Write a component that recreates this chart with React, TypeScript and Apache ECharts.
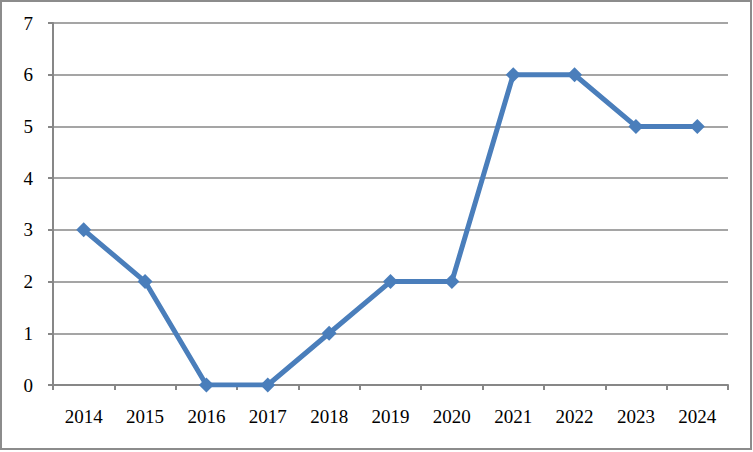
import React, { useEffect, useRef } from "react";
import * as echarts from "echarts";

const categories = ["2014", "2015", "2016", "2017", "2018", "2019", "2020", "2021", "2022", "2023", "2024"];
const values = [3, 2, 0, 0, 1, 2, 2, 6, 6, 5, 5];
const yTicks = { min: 0, max: 7, interval: 1 };

export default function App() {
  const ref = useRef<HTMLDivElement>(null);
  useEffect(() => {
    if (!ref.current) return;
    const chart = echarts.init(ref.current, null, { renderer: "svg" });
    const font = "'Liberation Serif', 'DejaVu Serif', serif";
    chart.setOption({
      animation: false,
      backgroundColor: "#ffffff",
      graphic: [
        {
          type: "rect",
          shape: { x: 1, y: 1, width: 750, height: 448 },
          style: { fill: "none", stroke: "#8c8c8c", lineWidth: 2 },
          silent: true,
        },
      ],
      grid: { left: 53, right: 25, top: 23, bottom: 67 },
      xAxis: {
        type: "category",
        data: categories,
        boundaryGap: true,
        axisLine: { lineStyle: { color: "#878787", width: 2 } },
        axisTick: { show: true, length: 5, lineStyle: { color: "#878787", width: 2 } },
        axisLabel: { color: "#000", fontFamily: font, fontSize: 19, margin: 22 },
        splitLine: { show: false },
      },
      yAxis: {
        type: "value",
        min: yTicks.min,
        max: yTicks.max,
        interval: yTicks.interval,
        axisLine: { show: true, lineStyle: { color: "#878787", width: 2 } },
        axisTick: { show: true, length: 5, lineStyle: { color: "#878787", width: 2 } },
        axisLabel: { color: "#000", fontFamily: font, fontSize: 19, margin: 20 },
        splitLine: { show: true, lineStyle: { color: "#878787", width: 1.5 } },
      },
      series: [
        {
          type: "line",
          data: values,
          symbol: "diamond",
          symbolSize: 15,
          lineStyle: { color: "#4A7EBB", width: 5 },
          itemStyle: { color: "#4A7EBB" },
        },
      ],
    });
    return () => chart.dispose();
  }, []);
  return (
    <div
      ref={ref}
      style={{ position: "fixed", left: 0, top: 0, width: 753, height: 452 }}
    />
  );
}
